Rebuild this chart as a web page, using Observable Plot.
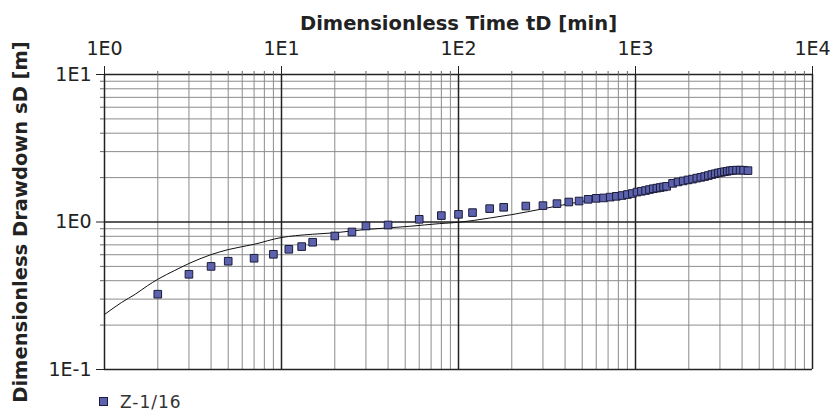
<!DOCTYPE html>
<html><head><meta charset="utf-8">
<script src="https://cdn.jsdelivr.net/npm/d3@7"></script>
<script src="https://cdn.jsdelivr.net/npm/@observablehq/plot@0.6"></script>
<style>
body{margin:0;background:#fff;font-family:"DejaVu Sans",sans-serif;}
#chart{width:834px;height:413px;overflow:hidden;background:#fff}
.legend{height:23px;display:flex;align-items:center;padding-left:99px;font-size:17px;color:#333;letter-spacing:1px}
.sw{width:7px;height:7px;background:#5c62ad;border:1px solid #1c1c3a;margin-right:12px}
svg g[aria-label="x-axis label"], svg g[aria-label="y-axis label"]{font-weight:bold;font-size:19.5px}
</style></head>
<body><div id="chart"></div>
<script>
// observed data: series Z-1/16
const timeObs = [2,3,4,5,7,9,11,13,15,20,25,30,40,60,80,100,120,150,180,240,300,360,420,480,540,600,660,720,780,840,900,960,1020,1080,1140,1200,1260,1320,1380,1440,1500,1620,1740,1860,1980,2100,2220,2340,2460,2580,2700,2820,2940,3060,3180,3300,3420,3540,3720,3900,4080,4320];
const sObs = [0.324,0.442,0.50,0.542,0.568,0.604,0.653,0.681,0.729,0.804,0.856,0.94,0.954,1.043,1.105,1.127,1.158,1.232,1.258,1.283,1.291,1.332,1.366,1.387,1.425,1.447,1.456,1.475,1.493,1.512,1.536,1.560,1.595,1.615,1.635,1.66,1.681,1.697,1.713,1.729,1.746,1.828,1.869,1.898,1.929,1.953,1.984,2.008,2.034,2.065,2.098,2.124,2.151,2.171,2.192,2.208,2.226,2.239,2.247,2.247,2.243,2.23];
// type curve
const timeCurve = [1,1.25,1.5,1.75,2,2.5,3,4,5,7,10,12,15,20,30,40,53,78,100,150,200,300,500,1000,2000,4320];
const sCurve = [0.236,0.285,0.325,0.37,0.409,0.47,0.523,0.601,0.650,0.706,0.785,0.808,0.826,0.845,0.89,0.912,0.935,0.975,0.995,1.064,1.122,1.229,1.38,1.56,1.90,2.22];
// ticks
const majorX = [1,10,100,1000,10000];
const majorY = [0.1,1,10];
const seriesName = "Z-1/16";
const xTitle = "Dimensionless Time tD [min]";
const yTitle = "Dimensionless Drawdown sD [m]";

const minorX = d3.range(0,4).flatMap(k => d3.range(2,10).map(m => m * 10 ** k));
const minorY = d3.range(-1,1).flatMap(k => d3.range(2,10).map(m => m * 10 ** k));
const fmt = d => "1E" + Math.round(Math.log10(d));
const obs = timeObs.map((t,i) => ({t, s: sObs[i]}));
const curve = timeCurve.map((t,i) => ({t, s: sCurve[i]}));

const chart = Plot.plot({
  width: 834, height: 390,
  marginLeft: 104, marginRight: 22, marginTop: 74, marginBottom: 21,
  x: {type: "log", domain: [1, 10000]},
  y: {type: "log", domain: [0.1, 10]},
  style: {fontFamily: "DejaVu Sans", fontSize: "19px", color: "#222", background: "white", overflow: "visible"},
  marks: [
    Plot.gridX(minorX, {stroke: "#8c8c8c", strokeOpacity: 1, strokeWidth: 1}),
    Plot.gridY(minorY, {stroke: "#8c8c8c", strokeOpacity: 1, strokeWidth: 1}),
    Plot.gridX(majorX, {stroke: "#222", strokeOpacity: 1, strokeWidth: 1.5}),
    Plot.gridY(majorY, {stroke: "#222", strokeOpacity: 1, strokeWidth: 1.5}),
    Plot.axisX(minorX, {anchor: "top", tickSize: 4, tickFormat: () => "", label: null, stroke: "#666"}),
    Plot.axisY(minorY, {anchor: "left", tickSize: 4, tickFormat: () => "", label: null, stroke: "#666"}),
    Plot.axisX(majorX, {anchor: "top", tickSize: 9, tickPadding: 11, tickFormat: fmt, label: xTitle, labelAnchor: "center", labelArrow: "none", labelOffset: 58, fontSize: 19, stroke: "#222"}),
    Plot.axisY(majorY, {anchor: "left", tickSize: 8, tickPadding: 5, tickFormat: fmt, label: yTitle, labelAnchor: "center", labelArrow: "none", labelOffset: 91, fontSize: 19, stroke: "#222"}),
    Plot.line(curve, {x: "t", y: "s", stroke: "#111", strokeWidth: 1, curve: "monotone-x"}),
    Plot.dot(obs, {x: "t", y: "s", symbol: "square", r: 4.3, fill: "#5c62ad", fillOpacity: 1, stroke: "#1c1c3a", strokeWidth: 1})
  ]
});
const root = document.getElementById("chart");
root.appendChild(chart);
const lg = document.createElement("div");
lg.className = "legend";
lg.innerHTML = '<span class="sw"></span><span></span>';
lg.lastChild.textContent = seriesName;
root.appendChild(lg);
</script>
</body></html>
